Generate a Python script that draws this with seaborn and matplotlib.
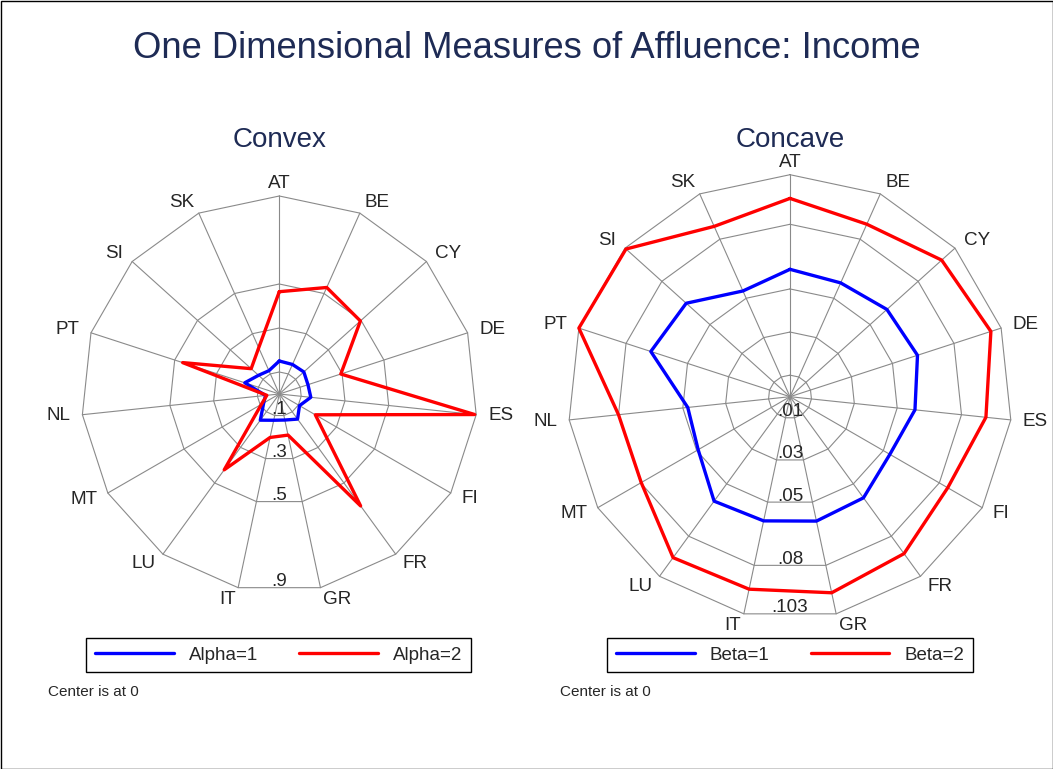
import numpy as np
import pandas as pd
import matplotlib
matplotlib.use("Agg")
import matplotlib.pyplot as plt
from matplotlib.patches import Rectangle
import seaborn as sns

# data
countries = ["AT", "BE", "CY", "DE", "ES", "FI", "FR", "GR", "IT", "LU", "MT", "NL", "PT", "SI", "SK"]
alpha1 = [0.150, 0.147, 0.150, 0.137, 0.144, 0.106, 0.141, 0.121, 0.122, 0.147, 0.082, 0.063, 0.165, 0.127, 0.116]
alpha2 = [0.465, 0.530, 0.496, 0.294, 0.893, 0.189, 0.629, 0.191, 0.202, 0.426, 0.094, 0.057, 0.462, 0.172, 0.230]
beta1 = [0.0591, 0.0578, 0.0605, 0.0622, 0.0583, 0.0535, 0.0580, 0.0590, 0.0589, 0.0599, 0.0492, 0.0477, 0.0679, 0.0648, 0.0537]
beta2 = [0.0920, 0.0876, 0.0947, 0.0980, 0.0914, 0.0845, 0.0900, 0.0930, 0.0913, 0.0923, 0.0797, 0.0800, 0.1030, 0.1024, 0.0865]

convex_rings = [0.1, 0.3, 0.5, 0.9]
convex_ring_labels = [".1", ".3", ".5", ".9"]
concave_rings = [0.01, 0.03, 0.05, 0.08, 0.103]
concave_ring_labels = [".01", ".03", ".05", ".08", ".103"]

sns.set_style("white")
plt.rcParams["font.family"] = ["Liberation Sans", "DejaVu Sans"]

W, H = 1053, 769
fig = plt.figure(figsize=(W / 100, H / 100), dpi=100)
navy = "#1e2b55"
grid = "#8a8a8a"


def make_ax(cx, cy, R, L):
    S = 2 * L * R
    ax = fig.add_axes([(cx - S / 2) / W, (H - cy - S / 2) / H, S / W, S / H])
    ax.set_xlim(-L, L)
    ax.set_ylim(-L, L)
    ax.axis("off")
    ax.patch.set_alpha(0)
    return ax


def radar(ax, R, rings, ring_labels, series, names):
    n = len(countries)
    ang = np.pi / 2 - 2 * np.pi * np.arange(n) / n
    c, s = np.cos(ang), np.sin(ang)
    rmax = rings[-1]
    # polygon rings and spokes
    for r in rings:
        f = r / rmax
        ax.plot(np.append(c, c[0]) * f, np.append(s, s[0]) * f, color=grid, lw=0.8, zorder=1)
    for ci, si in zip(c, s):
        ax.plot([0, ci], [0, si], color=grid, lw=0.8, zorder=1)
    for vals, col, name in zip(series, ["#0000ff", "#ff0000"], names):
        v = np.array(vals) / rmax
        df = pd.DataFrame({"x": np.append(v * c, v[0] * c[0]),
                           "y": np.append(v * s, v[0] * s[0])})
        sns.lineplot(data=df, x="x", y="y", sort=False, estimator=None,
                     color=col, lw=2.4, ax=ax, label=name, zorder=3)
    off = 12 / R
    for lab, ci, si in zip(countries, c, s):
        ha = "left" if ci > 0.01 else ("right" if ci < -0.01 else "center")
        ax.text(ci * (1 + off), si * (1 + off), lab, ha=ha, va="center", fontsize=13.6)
    edge = np.cos(np.pi / n)
    for r, lab in zip(rings, ring_labels):
        ax.text(0, -r / rmax * edge + 1.5 / R, lab, ha="center", va="baseline", fontsize=13.6)
    ax.set_xlabel("")
    ax.set_ylabel("")


def legend(ax, cx, cy):
    leg = ax.legend(loc="center", bbox_to_anchor=(cx / W, 1 - cy / H),
                    bbox_transform=fig.transFigure, ncol=2, fontsize=13.5,
                    handlelength=4.2, handletextpad=0.8, columnspacing=2.2,
                    borderpad=0.45, fancybox=False, framealpha=1)
    leg.get_frame().set_edgecolor("black")
    leg.get_frame().set_linewidth(1)


ax1 = make_ax(279.3, 394.0, 198, 1.3)
radar(ax1, 198, convex_rings, convex_ring_labels, [alpha1, alpha2], ["Alpha=1", "Alpha=2"])
legend(ax1, 278.5, 655)

ax2 = make_ax(790, 396.7, 222, 1.2)
radar(ax2, 222, concave_rings, concave_ring_labels, [beta1, beta2], ["Beta=1", "Beta=2"])
legend(ax2, 790, 655)

fig.text(0.5, 1 - 49 / H, "One Dimensional Measures of Affluence: Income",
         ha="center", va="center", fontsize=26.2, color=navy)
fig.text(280 / W, 1 - 140 / H, "Convex", ha="center", va="center", fontsize=20, color=navy)
fig.text(790 / W, 1 - 140 / H, "Concave", ha="center", va="center", fontsize=20, color=navy)
fig.text(48 / W, 1 - 692 / H, "Center is at 0", ha="left", va="center", fontsize=11)
fig.text(560 / W, 1 - 692 / H, "Center is at 0", ha="left", va="center", fontsize=11)

fig.patches.append(Rectangle((0.5 / W, 0.5 / H), 1 - 1 / W, 1 - 1 / H, transform=fig.transFigure,
                             fill=False, edgecolor="black", lw=1))

fig.savefig("out.png", dpi=100)
